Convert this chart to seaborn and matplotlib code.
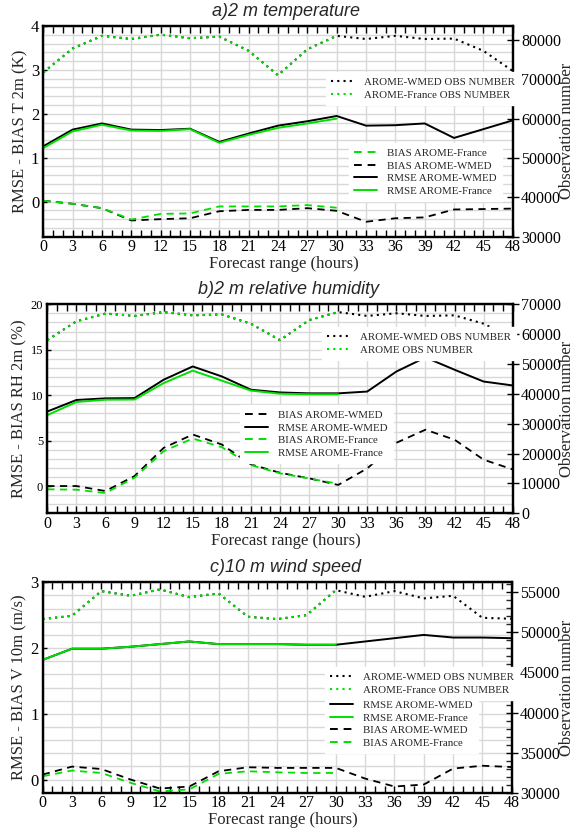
import matplotlib
matplotlib.use("Agg")
import matplotlib.pyplot as plt
from matplotlib.ticker import MultipleLocator
from matplotlib.lines import Line2D
import seaborn as sns

sns.set_theme(style="white")
plt.rcParams['font.family'] = ['Liberation Serif', 'DejaVu Serif']

HOURS = [0, 3, 6, 9, 12, 15, 18, 21, 24, 27, 30, 33, 36, 39, 42, 45, 48]
HOURS_FR = [0, 3, 6, 9, 12, 15, 18, 21, 24, 27, 30]
XTICKS = [0, 3, 6, 9, 12, 15, 18, 21, 24, 27, 30, 33, 36, 39, 42, 45, 48]

# a) 2 m temperature
A_RMSE_WMED = [1.26, 1.64, 1.78, 1.64, 1.63, 1.66, 1.36, 1.55, 1.73, 1.83, 1.95, 1.73, 1.74, 1.78, 1.45, 1.65, 1.85]
A_RMSE_FR = [1.22, 1.60, 1.75, 1.62, 1.61, 1.65, 1.34, 1.52, 1.68, 1.78, 1.89]
A_BIAS_WMED = [0.02, -0.05, -0.15, -0.43, -0.40, -0.38, -0.22, -0.19, -0.19, -0.15, -0.21, -0.46, -0.38, -0.36, -0.18, -0.17, -0.16]
A_BIAS_FR = [0.02, -0.05, -0.15, -0.41, -0.28, -0.27, -0.11, -0.11, -0.11, -0.08, -0.14]
A_OBS_WMED = [71700, 77800, 81000, 80200, 81300, 80400, 80800, 77200, 71000, 77600, 81000, 80200, 81000, 80200, 80300, 77200, 72100]
A_OBS_FR = [71700, 77800, 81000, 80200, 81300, 80400, 80800, 77200, 71000, 77600, 81000]

# b) 2 m relative humidity
B_RMSE_WMED = [8.2, 9.47, 9.65, 9.68, 11.7, 13.16, 12.06, 10.6, 10.3, 10.2, 10.2, 10.4, 12.6, 14.15, 12.8, 11.5, 11.07]
B_RMSE_FR = [7.8, 9.25, 9.5, 9.52, 11.33, 12.7, 11.6, 10.5, 10.16, 10.1, 10.1]
B_BIAS_WMED = [0.0, 0.0, -0.55, 1.1, 4.2, 5.67, 4.57, 2.38, 1.46, 0.85, 0.12, 1.94, 4.76, 6.2, 5.1, 2.9, 1.83]
B_BIAS_FR = [-0.36, -0.4, -0.77, 0.92, 3.84, 5.23, 4.28, 2.3, 1.4, 0.83, 0.26]
B_OBS_WMED = [58000, 64300, 66900, 66100, 67400, 66300, 66600, 63500, 58000, 64700, 67400, 66100, 67000, 66100, 66300, 63500, 58600]
B_OBS_FR = [58000, 64300, 66900, 66100, 67400, 66300, 66600, 63500, 58000, 64700, 67400]

# c) 10 m wind speed
C_RMSE_WMED = [1.82, 1.99, 1.99, 2.02, 2.06, 2.10, 2.06, 2.06, 2.06, 2.05, 2.05, 2.10, 2.15, 2.20, 2.16, 2.16, 2.15]
C_RMSE_FR = [1.82, 1.99, 1.99, 2.02, 2.06, 2.10, 2.06, 2.06, 2.06, 2.05, 2.05]
C_BIAS_WMED = [0.076, 0.197, 0.16, 0.0, -0.137, -0.106, 0.126, 0.187, 0.177, 0.177, 0.177, 0.015, -0.106, -0.076, 0.167, 0.21, 0.19]
C_BIAS_FR = [0.05, 0.137, 0.10, -0.05, -0.18, -0.15, 0.086, 0.126, 0.11, 0.10, 0.10]
C_OBS_WMED = [51660, 52070, 55150, 54570, 55360, 54400, 54860, 51950, 51660, 52150, 55270, 54440, 55150, 54240, 54570, 51820, 51700]
C_OBS_FR = [51660, 52070, 55150, 54570, 55360, 54400, 54860, 51950, 51660, 52150, 55270]

W, H = 577, 832
GREEN = '#00e000'
BLACK = 'black'
DOT = (0, (1, 2))
DASH = (0, (4, 3))

fig = plt.figure(figsize=(W / 100, H / 100), dpi=100)


def rect(l, r, t, b):
    return [l / W, 1 - b / H, (r - l) / W, (b - t) / H]


def fpt(x, y):
    return (x / W, 1 - y / H)


def panel(r, title, title_y, ylabel, ylim, yminor, ystep, y2lim, y2step, y2minor,
          rmse_w, rmse_f, bias_w, bias_f, obs_w, obs_f, lefttick_fs, xlabel_y):
    ax = fig.add_axes(rect(*r))
    ax2 = ax.twinx()
    ax.set_zorder(1)
    ax2.set_zorder(2)
    ax.patch.set_visible(True)
    ax2.patch.set_visible(False)

    sns.lineplot(x=HOURS, y=rmse_w, ax=ax, color=BLACK, lw=1.4, legend=False)
    sns.lineplot(x=HOURS_FR, y=rmse_f, ax=ax, color=GREEN, lw=1.4, legend=False)
    sns.lineplot(x=HOURS, y=bias_w, ax=ax, color=BLACK, lw=1.3, linestyle=DASH, legend=False)
    sns.lineplot(x=HOURS_FR, y=bias_f, ax=ax, color=GREEN, lw=1.3, linestyle=DASH, legend=False)
    sns.lineplot(x=HOURS, y=obs_w, ax=ax2, color=BLACK, lw=1.5, linestyle=DOT, legend=False)
    sns.lineplot(x=HOURS_FR, y=obs_f, ax=ax2, color=GREEN, lw=1.5, linestyle=DOT, legend=False)

    ax.set_xlim(0, 48)
    ax.set_ylim(*ylim)
    ax2.set_ylim(*y2lim)
    ax.xaxis.set_major_locator(MultipleLocator(3))
    ax.xaxis.set_minor_locator(MultipleLocator(1))
    ax.yaxis.set_major_locator(MultipleLocator(ystep))
    ax.yaxis.set_minor_locator(MultipleLocator(yminor))
    ax2.yaxis.set_major_locator(MultipleLocator(y2step))
    if y2minor:
        ax2.yaxis.set_minor_locator(MultipleLocator(y2minor))
    ax.set_xticks(XTICKS)
    ax.set_xticklabels([str(v) for v in XTICKS])

    ax.grid(True, which='major', axis='x', color='#d8d8d8', lw=1.0)
    ax.grid(True, which='both', axis='y', color='#d8d8d8', lw=1.0)
    ax.set_axisbelow(True)

    ax.tick_params(axis='x', which='both', direction='in', top=True, bottom=True,
                   length=5, width=1, labelsize=11.5, pad=2, colors='black')
    ax.tick_params(axis='y', which='major', direction='in', left=True, length=3,
                   width=1, labelsize=lefttick_fs, pad=3, colors='black')
    ax.tick_params(axis='y', which='minor', left=False)
    ax2.tick_params(axis='y', which='major', direction='inout', right=True, length=8,
                    width=1, labelsize=11.5, pad=2, colors='black')
    ax2.tick_params(axis='y', which='minor', direction='in', right=True, length=4, width=1)
    ax2.set_yticklabels([f"{int(v)}" for v in ax2.get_yticks()])

    for a in (ax, ax2):
        for s in a.spines.values():
            s.set_color('black')
            s.set_linewidth(1.6)

    ax.set_xlabel('')
    ax.set_ylabel(ylabel, fontsize=12, labelpad=2)
    ax2.set_ylabel('')
    cy = (r[2] + r[3]) / 2
    fig.text(*fpt(567, cy), 'Observation number', rotation=90, ha='center', va='center',
             fontsize=12)
    cx = (r[0] + r[1]) / 2
    fig.text(*fpt(cx + 6, xlabel_y), 'Forecast range (hours)', ha='center', va='center', fontsize=12)
    fig.text(*fpt(cx + 8, title_y), title, ha='center', va='center', fontsize=13,
             family='Liberation Sans', style='italic')
    return ax, ax2


def h_line(color, ls, lw=1.4):
    return Line2D([], [], color=color, linestyle=ls, lw=lw)


def put_legend(ax, handles, labels, x, y):
    leg = ax.legend(handles, labels, loc='upper left', bbox_to_anchor=fpt(x, y),
                    bbox_transform=fig.transFigure, fontsize=7.8, frameon=True,
                    fancybox=False, framealpha=1, edgecolor='white', facecolor='white',
                    handlelength=2.1, handletextpad=0.9, labelspacing=0.28,
                    borderpad=0.5, borderaxespad=0)
    leg.set_zorder(10)
    return leg


# Panel a
axA, axA2 = panel((43.3, 512.7, 26, 236.7), 'a)2 m temperature', 12,
                  'RMSE - BIAS T 2m (K)', (-0.8, 4), 0.2, 1, (30000, 83500), 10000, None,
                  A_RMSE_WMED, A_RMSE_FR, A_BIAS_WMED, A_BIAS_FR, A_OBS_WMED, A_OBS_FR, 12, 264)
put_legend(axA2, [h_line(BLACK, DOT, 1.5), h_line(GREEN, DOT, 1.5)],
           ['AROME-WMED OBS NUMBER', 'AROME-France OBS NUMBER'], 326, 72)
put_legend(axA, [h_line(GREEN, DASH), h_line(BLACK, DASH), h_line(BLACK, '-'), h_line(GREEN, '-')],
           ['BIAS AROME-France', 'BIAS AROME-WMED', 'RMSE AROME-WMED', 'RMSE AROME-France'], 349, 143)

# Panel b
axB, axB2 = panel((47.3, 512.7, 304.3, 513.3), 'b)2 m relative humidity', 290,
                  'RMSE - BIAS RH 2m (%)', (-3, 20), 1, 5, (0, 70000), 10000, None,
                  B_RMSE_WMED, B_RMSE_FR, B_BIAS_WMED, B_BIAS_FR, B_OBS_WMED, B_OBS_FR, 9, 541)
put_legend(axB2, [h_line(BLACK, DOT, 1.5), h_line(GREEN, DOT, 1.5)],
           ['AROME-WMED OBS NUMBER', 'AROME OBS NUMBER'], 322, 327)
put_legend(axB, [h_line(BLACK, DASH), h_line(BLACK, '-'), h_line(GREEN, DASH), h_line(GREEN, '-')],
           ['BIAS AROME-WMED', 'RMSE AROME-WMED', 'BIAS AROME-France', 'RMSE AROME-France'], 240, 405)

# Panel c
axC, axC2 = panel((42.7, 511.7, 582.3, 792.7), 'c)10 m wind speed', 568,
                  'RMSE - BIAS V 10m (m/s)', (-0.2, 3), 0.2, 1, (30000, 56250), 5000, 1000,
                  C_RMSE_WMED, C_RMSE_FR, C_BIAS_WMED, C_BIAS_FR, C_OBS_WMED, C_OBS_FR, 12, 820)
put_legend(axC2, [h_line(BLACK, DOT, 1.5), h_line(GREEN, DOT, 1.5)],
           ['AROME-WMED OBS NUMBER', 'AROME-France OBS NUMBER'], 325, 667)
put_legend(axC, [h_line(BLACK, '-'), h_line(GREEN, '-'), h_line(BLACK, DASH), h_line(GREEN, DASH)],
           ['RMSE AROME-WMED', 'RMSE AROME-France', 'BIAS AROME-WMED', 'BIAS AROME-France'], 325, 695)

fig.savefig('out.png', dpi=100)
